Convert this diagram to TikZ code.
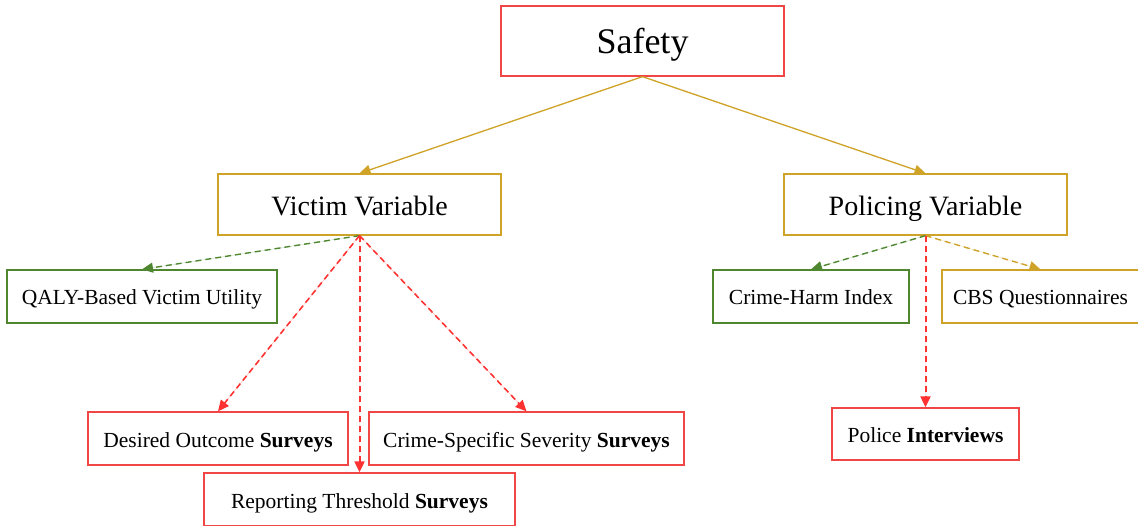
\documentclass[tikz,border=0pt]{standalone}
\usepackage{fontspec}
\setmainfont{Liberation Serif}
\usetikzlibrary{arrows.meta}
\definecolor{gold}{RGB}{207,163,40}
\definecolor{dgreen}{RGB}{78,135,48}
\definecolor{lred}{RGB}{240,70,70}
\definecolor{ared}{RGB}{255,50,50}
\begin{document}
\begin{tikzpicture}[x=1pt,y=-1pt,
  box/.style={draw,line width=1.3pt,inner sep=0pt,align=center,text=black},
  big/.style={box,font=\fontsize{36}{40}\selectfont,text height=30pt,text depth=4pt,minimum width=283pt,minimum height=70pt},
  mid/.style={box,font=\fontsize{28}{32}\selectfont,text height=26pt,text depth=3pt,minimum width=283pt,minimum height=61pt},
  small/.style={box,font=\fontsize{21.5}{24}\selectfont,text height=20pt,text depth=3pt,minimum height=53pt},
  tip/.style={-{Triangle[length=11pt,width=10pt]}},
  goldarr/.style={tip,draw=gold,fill=gold,line width=1.3pt},
  greenarr/.style={tip,draw=dgreen,fill=dgreen,line width=1.4pt,dash pattern=on 6pt off 4pt},
  golddash/.style={tip,draw=gold,fill=gold,line width=1.4pt,dash pattern=on 6pt off 4pt},
  redarr/.style={tip,draw=ared,fill=ared,line width=1.6pt,dash pattern=on 6pt off 4pt},
  redvert/.style={redarr,line width=2pt}]
\useasboundingbox (0,0) rectangle (1138,526);
\node[big,draw=lred] (safety) at (642.5,41) {Safety};
\node[mid,draw=gold] (victim) at (359.5,204.5) {Victim Variable};
\node[mid,draw=gold] (policing) at (925.5,204.5) {Policing Variable};
\node[small,draw=dgreen,minimum width=270pt] (qaly) at (142,296.5) {QALY-Based Victim Utility};
\node[small,draw=dgreen,minimum width=196pt] (harm) at (811,296.5) {Crime-Harm Index};
\node[small,draw=gold,minimum width=197pt] (cbs) at (1040.5,296.5) {CBS Questionnaires};
\node[small,draw=lred,minimum width=260pt] (desired) at (218,438.5) {Desired Outcome \textbf{Surveys}};
\node[small,draw=lred,minimum width=315pt] (severity) at (526.5,438.5) {Crime-Specific Severity \textbf{Surveys}};
\node[small,draw=lred,minimum width=311pt] (report) at (359.5,499.5) {Reporting Threshold \textbf{Surveys}};
\node[small,draw=lred,minimum width=187pt,minimum height=52pt] (police) at (925.5,434) {Police \textbf{Interviews}};
\draw[goldarr] (safety.south) -- (victim.north);
\draw[goldarr] (safety.south) -- (policing.north);
\draw[greenarr] (victim.south) -- (qaly.north);
\draw[redarr] (victim.south) -- (desired.north);
\draw[redvert] (victim.south) -- (report.north);
\draw[redarr] (victim.south) -- (severity.north);
\draw[greenarr] (policing.south) -- (harm.north);
\draw[golddash] (policing.south) -- (cbs.north);
\draw[redvert] (policing.south) -- (police.north);
\end{tikzpicture}
\end{document}
